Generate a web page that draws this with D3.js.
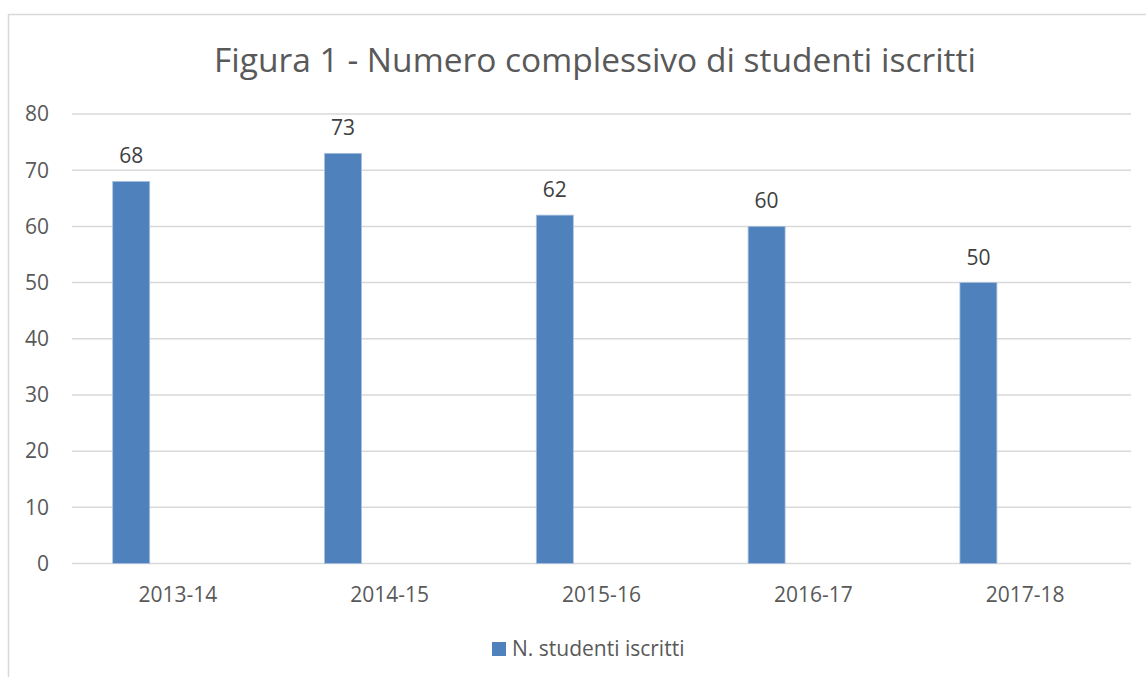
<!DOCTYPE html>
<html>
<head>
<meta charset="utf-8">
<script src="https://cdn.jsdelivr.net/npm/d3@7"></script>
<style>
  body { margin: 0; background: #fff; overflow: hidden; }
  svg { display: block; font-family: "Open Sans", sans-serif; }
</style>
</head>
<body>
<svg id="chart"></svg>
<script>
const categories = ["2013-14", "2014-15", "2015-16", "2016-17", "2017-18"];
const values = [68, 73, 62, 60, 50];
const seriesName = "N. studenti iscritti";
const yTicks = [0, 10, 20, 30, 40, 50, 60, 70, 80];
const title = "Figura 1 - Numero complessivo di studenti iscritti";

const width = 1146;
const height = 677;
const margin = { top: 114, right: 15, bottom: 113.5, left: 72 };

const svg = d3.select("#chart").attr("width", width).attr("height", height);

// chart frame (runs off the right / bottom edge as in the original)
svg.append("rect")
  .attr("x", 8.5).attr("y", 14.5)
  .attr("width", 1160).attr("height", 700)
  .attr("fill", "none")
  .attr("stroke", "#d9d9d9")
  .attr("stroke-width", 1.5);

const x = d3.scaleBand()
  .domain(categories)
  .range([margin.left, width - margin.right]);

// second (empty) slot keeps the bar on the left of each category, like the source
const x1 = d3.scaleBand()
  .domain([seriesName, "empty"])
  .range([0, x.bandwidth()])
  .paddingInner(0.604)
  .paddingOuter(0.436);

const y = d3.scaleLinear()
  .domain([0, 80])
  .range([height - margin.bottom, margin.top]);

// grid lines
svg.append("g")
  .selectAll("line")
  .data(yTicks)
  .enter()
  .append("line")
  .attr("x1", margin.left)
  .attr("x2", width - margin.right)
  .attr("y1", (d) => y(d))
  .attr("y2", (d) => y(d))
  .attr("stroke", "#d9d9d9")
  .attr("stroke-width", 1.5);

// y axis labels
svg.append("g")
  .selectAll("text")
  .data(yTicks)
  .enter()
  .append("text")
  .attr("x", 49)
  .attr("y", (d) => y(d))
  .attr("dy", "0.35em")
  .attr("text-anchor", "end")
  .style("font-size", "21px")
  .style("fill", "#595959")
  .text((d) => d);

// bars
svg.append("g")
  .selectAll("rect")
  .data(values)
  .enter()
  .append("rect")
  .attr("x", (d, i) => x(categories[i]) + x1(seriesName))
  .attr("y", (d) => y(d))
  .attr("width", x1.bandwidth())
  .attr("height", (d) => y(0) - y(d))
  .attr("fill", "#4f81bd")
  .attr("stroke", "#a8c0de")
  .attr("stroke-width", 0.8);

// value labels
svg.append("g")
  .selectAll("text")
  .data(values)
  .enter()
  .append("text")
  .attr("x", (d, i) => x(categories[i]) + x1(seriesName) + x1.bandwidth() / 2)
  .attr("y", (d) => y(d) - 18)
  .attr("text-anchor", "middle")
  .style("font-size", "21px")
  .style("fill", "#404040")
  .text((d) => d);

// category labels
svg.append("g")
  .selectAll("text")
  .data(categories)
  .enter()
  .append("text")
  .attr("x", (d) => x(d) + x.bandwidth() / 2)
  .attr("y", 602)
  .attr("text-anchor", "middle")
  .style("font-size", "21px")
  .style("fill", "#595959")
  .text((d) => d);

// title
svg.append("text")
  .attr("x", 595)
  .attr("y", 72)
  .attr("text-anchor", "middle")
  .style("font-size", "33.5px")
  .style("fill", "#595959")
  .text(title);

// legend
const legend = svg.append("g").attr("transform", "translate(492, 642)");
legend.append("rect")
  .attr("width", 14).attr("height", 14)
  .attr("fill", "#4f81bd");
legend.append("text")
  .attr("x", 20)
  .attr("y", 13.5)
  .style("font-size", "21px")
  .style("fill", "#595959")
  .text(seriesName);
</script>
</body>
</html>
